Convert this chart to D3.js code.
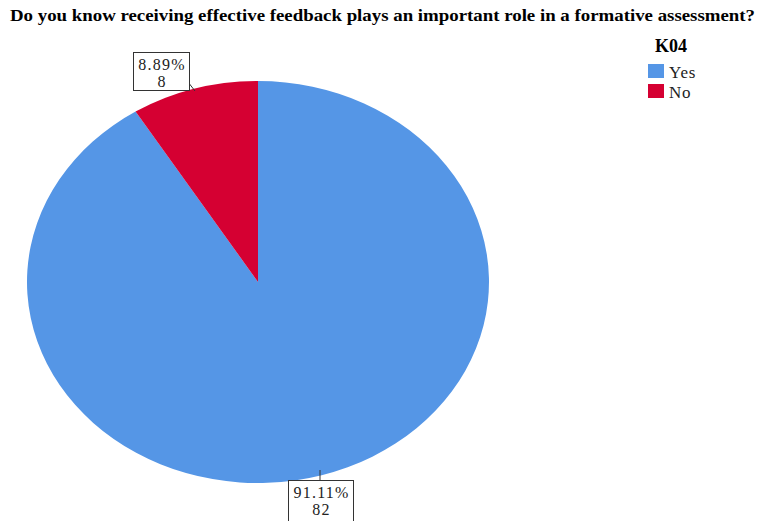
<!DOCTYPE html>
<html>
<head>
<meta charset="utf-8">
<script src="https://cdn.jsdelivr.net/npm/d3@7"></script>
<style>
body { margin: 0; background: #fff; }
svg { font-family: "Liberation Serif", "Times New Roman", serif; }
</style>
</head>
<body>
<svg width="757" height="521"></svg>
<script>
// data
var categories = ["Yes", "No"];
var counts = [82, 8];
var percents = ["91.11%", "8.89%"];
var colors = ["#5596e6", "#d50032"];

var width = 757, height = 521;
var cx = 258, cy = 282, rx = 231, ry = 201;

var svg = d3.select("svg");

// title
svg.append("text")
    .attr("x", 10)
    .attr("y", 21)
    .attr("font-weight", "bold")
    .attr("font-size", 16)
    .attr("textLength", 745)
    .attr("lengthAdjust", "spacingAndGlyphs")
    .text("Do you know receiving effective feedback plays an important role in a formative assessment?");

var pie = d3.pie().sort(null).value(function(d) { return d; });
var arcs = pie(counts);

var arc = d3.arc().innerRadius(0).outerRadius(1);

var g = svg.append("g")
    .attr("transform", "translate(" + cx + "," + cy + ") scale(" + rx + "," + ry + ")");

g.selectAll("path")
    .data(arcs)
    .enter().append("path")
    .attr("d", arc)
    .attr("fill", function(d, i) { return colors[i]; });

// labels with boxes
var labelBoxes = [
    { x: 288, y: 480, w: 65, h: 44, lx1: 320, ly1: 470, lx2: 320, ly2: 480 },
    { x: 133, y: 52, w: 56, h: 38, lx1: 188, ly1: 82, lx2: 195, ly2: 91 }
];

labelBoxes.forEach(function(b, i) {
    svg.append("line")
        .attr("x1", b.lx1).attr("y1", b.ly1)
        .attr("x2", b.lx2).attr("y2", b.ly2)
        .attr("stroke", "#333").attr("stroke-width", 1);
    svg.append("rect")
        .attr("x", b.x + 0.5).attr("y", b.y + 0.5)
        .attr("width", b.w).attr("height", b.h)
        .attr("fill", "#fff")
        .attr("stroke", "#333").attr("stroke-width", 1);
    svg.append("text")
        .attr("x", b.x + b.w / 2 + 1)
        .attr("y", b.y + 18)
        .attr("text-anchor", "middle")
        .attr("font-size", 16)
        .attr("letter-spacing", 1.2)
        .attr("fill", "#222")
        .text(percents[i]);
    svg.append("text")
        .attr("x", b.x + b.w / 2 + 1)
        .attr("y", b.y + 35)
        .attr("text-anchor", "middle")
        .attr("font-size", 16)
        .attr("letter-spacing", 1.2)
        .attr("fill", "#222")
        .text(counts[i]);
});

// legend
var legend = svg.append("g").attr("transform", "translate(648,0)");
legend.append("text")
    .attr("x", 7).attr("y", 52)
    .attr("font-weight", "bold")
    .attr("font-size", 18)
    .text("K04");

var items = legend.selectAll(".item")
    .data(categories)
    .enter().append("g")
    .attr("class", "item")
    .attr("transform", function(d, i) { return "translate(0," + (64 + i * 20) + ")"; });

items.append("rect")
    .attr("width", 16).attr("height", 14)
    .attr("fill", function(d, i) { return colors[i]; });

items.append("text")
    .attr("x", 21).attr("y", 14)
    .attr("font-size", 17)
    .attr("letter-spacing", 0.8)
    .attr("fill", "#222")
    .text(function(d) { return d; });
</script>
</body>
</html>
